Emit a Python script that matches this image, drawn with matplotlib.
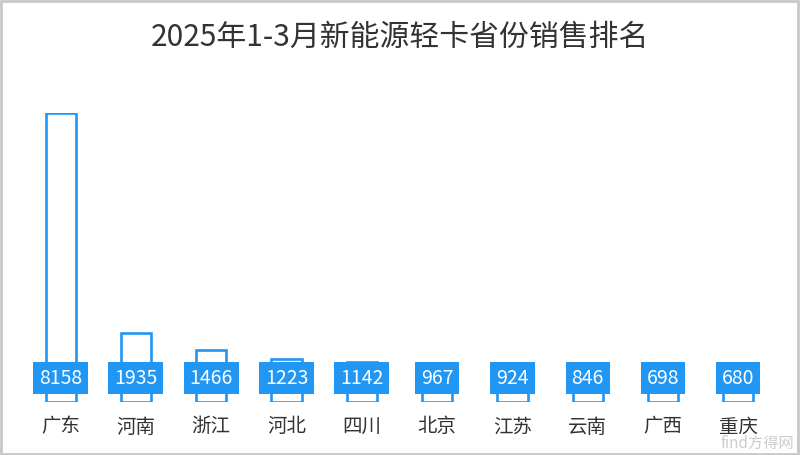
import matplotlib
matplotlib.use("Agg")
import matplotlib.pyplot as plt
from matplotlib.patches import Rectangle

plt.rcParams["font.family"] = ["Noto Sans CJK SC", "DejaVu Sans"]

# Data
provinces = ["广东", "河南", "浙江", "河北", "四川", "北京", "江苏", "云南", "广西", "重庆"]
sales = [8158, 1935, 1466, 1223, 1142, 967, 924, 846, 698, 680]
title = "2025年1-3月新能源轻卡省份销售排名"

blue = "#2196F3"

fig = plt.figure(figsize=(8, 4.55), dpi=100)
ax = fig.add_axes([23 / 800, (455 - 402) / 455, 753 / 800, 289 / 455])

x = range(len(provinces))
ax.bar(x, sales, width=0.4, facecolor="white", edgecolor=blue, linewidth=1.9)
ax.set_xlim(-0.5, len(provinces) - 0.5)
ax.set_ylim(0, max(sales))
ax.axis("off")

# value boxes near the baseline and category labels below
for i, v in enumerate(sales):
    ax.annotate(
        str(v), xy=(i, 0), xytext=(0, 24), textcoords="offset pixels",
        ha="center", va="center", color="white", fontsize=14,
        bbox=dict(boxstyle="square,pad=0.3", facecolor=blue, edgecolor="none"),
        annotation_clip=False,
    )
    ax.annotate(
        provinces[i], xy=(i, 0), xytext=(0, -25), textcoords="offset pixels",
        ha="center", va="center", color="#333333", fontsize=14,
        annotation_clip=False,
    )

fig.text(0.5, 1 - 37 / 455, title, ha="center", va="center",
         fontsize=21.5, color="#333333")

# watermark
fig.text(0.993, 0.006, "find方得网", ha="right", va="bottom",
         fontsize=11, color="#c0c0c0", alpha=0.8)

# light gray frame around the image
fig.patches.append(Rectangle((0.001, 0.002), 0.997, 0.995, transform=fig.transFigure,
                             fill=False, edgecolor="#c8c8c8", linewidth=2))

fig.savefig("out.png", dpi=100)
